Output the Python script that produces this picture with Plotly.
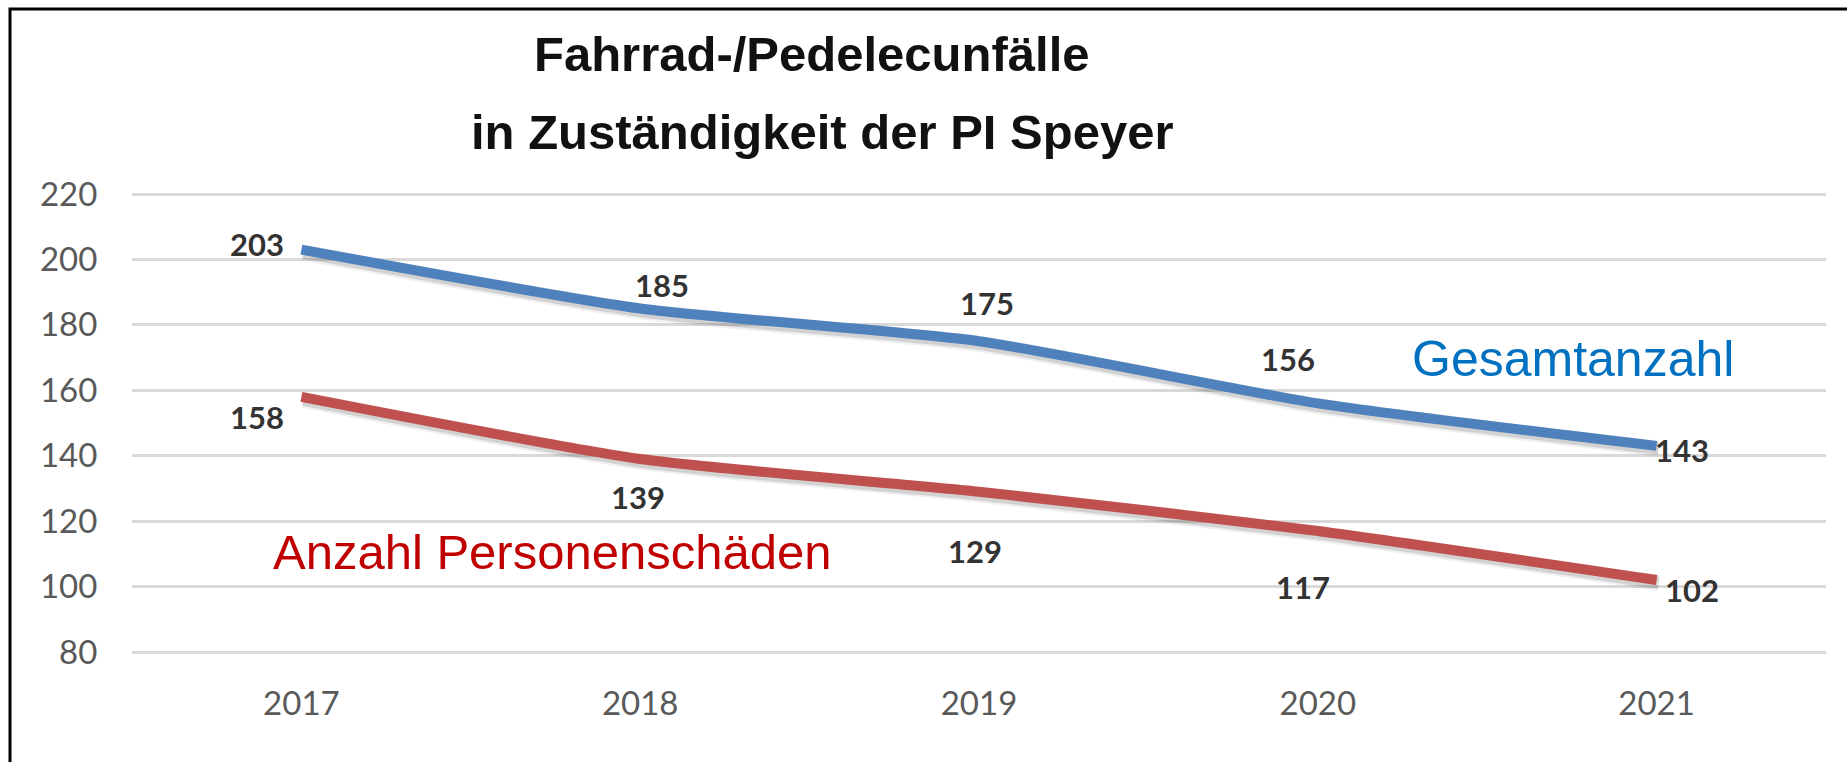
import plotly.graph_objects as go

# ---- data ----
years = ["2017", "2018", "2019", "2020", "2021"]
gesamt = [203, 185, 175, 156, 143]
personen = [158, 139, 129, 117, 102]
y_ticks = [80, 100, 120, 140, 160, 180, 200, 220]

title_line1 = "Fahrrad-/Pedelecunfälle"
title_line2 = "in Zuständigkeit der PI Speyer"
label_gesamt = "Gesamtanzahl"
label_personen = "Anzahl Personenschäden"

# ---- style / layout ----
W, H = 1847, 762
GL, GR, GT, GB = 132, 1826, 194, 652   # grid extent in pixels
PAD = 2                                 # keep edge gridlines inside plot area
L, R, T, B = GL, GR, GT - PAD, GB + PAD
BLUE = "#4F81BD"
RED = "#C0504D"
GRID = "#D9D9D9"

# label offsets (pixels) relative to each point
off_gesamt = [(-44, -6), (22, -24), (8, -38), (-30, -44), (25, 4)]
off_personen = [(-44, 20), (-2, 38), (-4, 59), (-15, 56), (35, 10)]

def px2x(px):
    return (px - L) / (R - L)

def px2y(py):
    return (B - py) / (B - T)

u_y = (y_ticks[-1] - y_ticks[0]) / (GB - GT)
yr = [y_ticks[0] - PAD * u_y, y_ticks[-1] + PAD * u_y]
xr = [-0.5, len(years) - 0.5]
u_x = (xr[1] - xr[0]) / (R - L)
sdx, sdy = 2, 3  # shadow offset in px

fig = go.Figure()

# shadows (overlay axes x2/y2, shifted by a few pixels)
for vals in (gesamt, personen):
    for w, a in ((16, 0.06), (12, 0.12)):
        fig.add_trace(go.Scatter(
            x=years, y=vals, mode="lines", xaxis="x2", yaxis="y2",
            line=dict(color=f"rgba(0,0,0,{a})", width=w, shape="spline", smoothing=0.6),
            hoverinfo="skip", showlegend=False))

# main lines (overlay axes x3/y3, same scale as x/y, drawn above shadows)
fig.add_trace(go.Scatter(x=years, y=gesamt, mode="lines", name=label_gesamt,
                         xaxis="x3", yaxis="y3",
                         line=dict(color=BLUE, width=10, shape="spline", smoothing=0.6),
                         showlegend=False))
fig.add_trace(go.Scatter(x=years, y=personen, mode="lines", name=label_personen,
                         xaxis="x3", yaxis="y3",
                         line=dict(color=RED, width=10, shape="spline", smoothing=0.6),
                         showlegend=False))

annotations = []
for vals, offs in ((gesamt, off_gesamt), (personen, off_personen)):
    for i, (v, (dx, dy)) in enumerate(zip(vals, offs)):
        annotations.append(dict(
            x=i, y=v, xref="x", yref="y", text="<b>%d</b>" % v, showarrow=False,
            xshift=dx, yshift=-dy, xanchor="center", yanchor="middle",
            font=dict(family="Lato", size=31, color="#333333")))

annotations += [
    dict(x=px2x(812), y=px2y(54), xref="paper", yref="paper", text="<b>%s</b>" % title_line1,
         showarrow=False, xanchor="center", yanchor="middle",
         font=dict(family="Liberation Sans", size=49, color="#111111")),
    dict(x=px2x(822), y=px2y(132), xref="paper", yref="paper", text="<b>%s</b>" % title_line2,
         showarrow=False, xanchor="center", yanchor="middle",
         font=dict(family="Liberation Sans", size=49, color="#111111")),
    dict(x=px2x(1573), y=px2y(359), xref="paper", yref="paper", text=label_gesamt,
         showarrow=False, xanchor="center", yanchor="middle",
         font=dict(family="Liberation Sans", size=50, color="#0070C0")),
    dict(x=px2x(552), y=px2y(552), xref="paper", yref="paper", text=label_personen,
         showarrow=False, xanchor="center", yanchor="middle",
         font=dict(family="Liberation Sans", size=49, color="#C00000")),
]

shapes = [dict(type="rect", xref="paper", yref="paper",
               x0=px2x(10), x1=px2x(1900), y0=px2y(800), y1=px2y(9),
               line=dict(color="black", width=3), fillcolor="rgba(0,0,0,0)", layer="above")]

fig.update_layout(
    width=W, height=H, autosize=False,
    margin=dict(l=L, r=W - R, t=T, b=H - B, pad=0),
    paper_bgcolor="white", plot_bgcolor="white",
    annotations=annotations, shapes=shapes,
    xaxis=dict(type="category", categoryarray=years, range=xr, showgrid=False,
               zeroline=False, showline=False,
               ticks="outside", ticklen=20, tickcolor="rgba(0,0,0,0)",
               tickfont=dict(family="Lato", size=33, color="#595959")),
    yaxis=dict(range=yr, tickvals=y_ticks, showgrid=True, gridcolor=GRID, gridwidth=2.5,
               zeroline=False, showline=False,
               ticks="outside", ticklen=27, tickcolor="rgba(0,0,0,0)",
               tickfont=dict(family="Lato", size=33, color="#595959")),
    xaxis2=dict(type="category", categoryarray=years, overlaying="x", visible=False,
                range=[xr[0] - sdx * u_x, xr[1] - sdx * u_x]),
    yaxis2=dict(overlaying="y", visible=False,
                range=[yr[0] + sdy * u_y, yr[1] + sdy * u_y]),
    xaxis3=dict(type="category", categoryarray=years, overlaying="x", visible=False, range=xr),
    yaxis3=dict(overlaying="y", visible=False, range=yr),
)

fig.write_html("out.html", config={"displayModeBar": False},
               post_script="document.body.style.margin='0';")
